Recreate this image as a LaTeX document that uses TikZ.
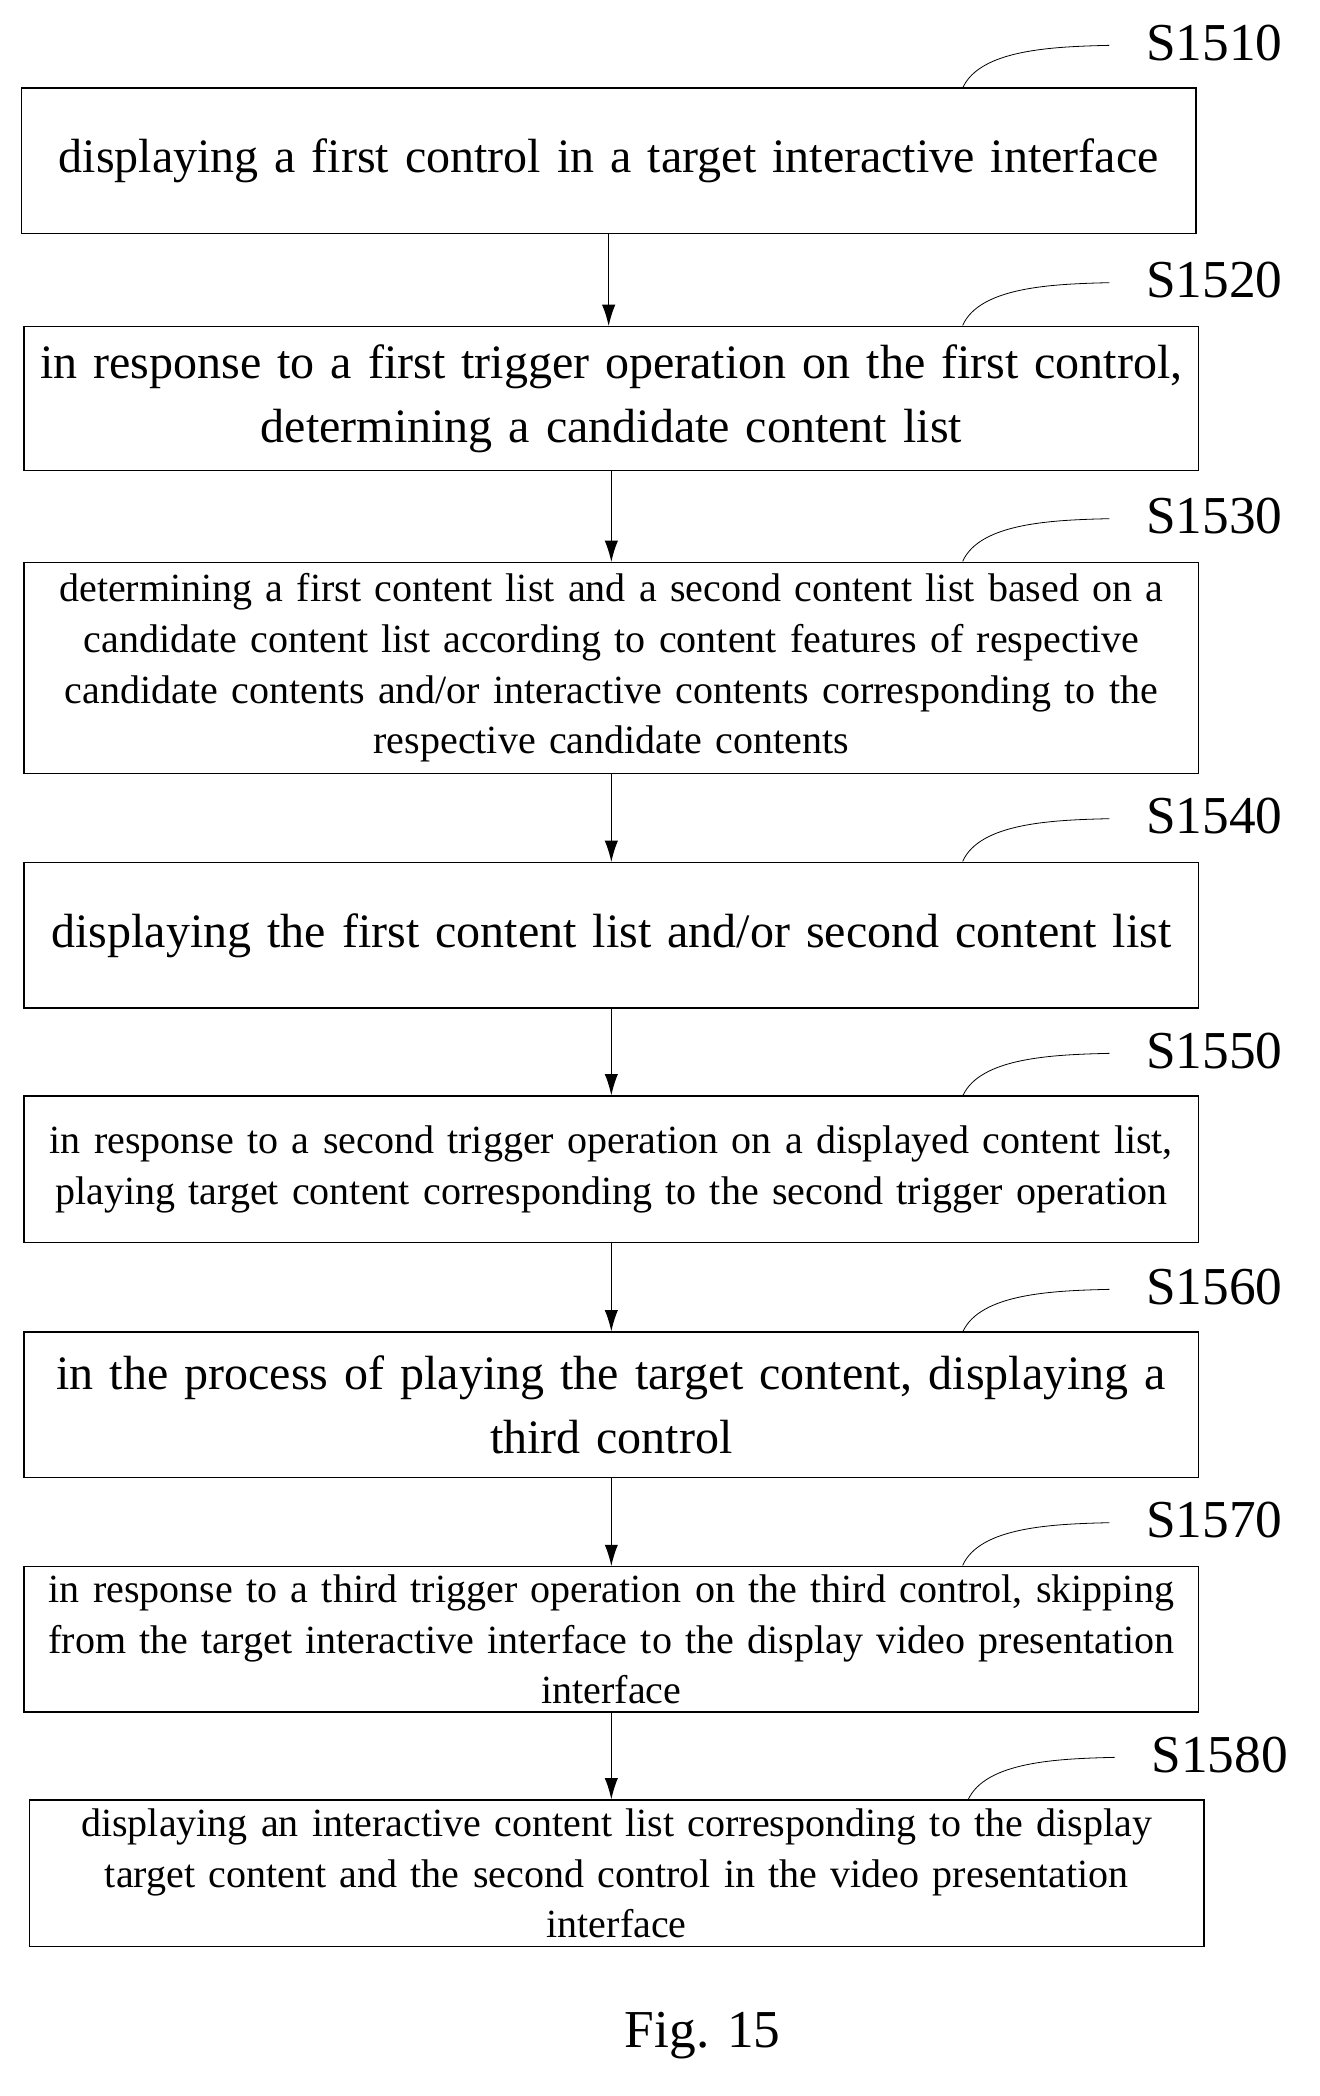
\documentclass[tikz,border=0pt]{standalone}
\usepackage{fontspec}
\setmainfont{Liberation Serif}
\usetikzlibrary{arrows.meta}
\begin{document}
\begin{tikzpicture}[x=1pt,y=-1pt,
 box/.style={draw,line width=0.9pt,minimum width=881pt,inner sep=0pt,align=center,text width=875pt},
 big/.style={font=\fontsize{36}{48}\selectfont},
 sm/.style={font=\fontsize{30}{38}\selectfont},
 lab/.style={font=\fontsize{40}{44}\selectfont,anchor=west},
 arr/.style={-{Latex[length=16pt,width=10pt]},line width=0.9pt},
 lead/.style={line width=0.6pt}]
\useasboundingbox (0,0) rectangle (990,1572);
\node[box,big,minimum height=109pt] (b1) at (456.5,120.5) {displaying a first control in a target interactive interface};
\node[box,big,minimum height=108pt] (b2) at (458.5,299) {in response to a first trigger operation on the first control,\\determining a candidate content list};
\node[box,sm,minimum height=158pt] (b3) at (458.5,501) {determining a first content list and a second content list based on a\\candidate content list according to content features of respective\\candidate contents and/or interactive contents corresponding to the\\respective candidate contents};
\node[box,big,minimum height=109pt] (b4) at (458.5,701.5) {displaying the first content list and/or second content list};
\node[box,sm,minimum height=110pt] (b5) at (458.5,877) {in response to a second trigger operation on a displayed content list,\\playing target content corresponding to the second trigger operation};
\node[box,big,minimum height=109pt] (b6) at (458.5,1053.5) {in the process of playing the target content, displaying a\\third control};
\node[box,sm,minimum height=109pt] (b7) at (458.5,1229.5) {in response to a third trigger operation on the third control, skipping\\from the target interactive interface to the display video presentation\\interface};
\node[box,sm,minimum height=110pt] (b8) at (462.5,1405) {displaying an interactive content list corresponding to the display\\target content and the second control in the video presentation\\interface};
\foreach \a/\b in {b1/b2,b2/b3,b3/b4,b4/b5,b5/b6,b6/b7,b7/b8}{\draw[arr] (\a.south) -- (\a.south |- \b.north);}
\foreach \n/\t/\y in {b1/S1510/32,b2/S1520/210,b3/S1530/387,b4/S1540/612,b5/S1550/788,b6/S1560/965,b7/S1570/1140}{
 \node[lab] (l\n) at (856,\y) {\t};
 \coordinate (c\n) at (722,\y+34);
 \draw[lead] (c\n) .. controls (735,\y+5) and (790,\y+3) .. (832,\y+2);}
\node[lab] (lb8) at (860,1316) {S1580};
\draw[lead] (726,1350) .. controls (739,1321) and (794,1319) .. (836,1318);
\node[font=\fontsize{40}{44}\selectfont] (fig) at (527,1527) {Fig. 15};
\end{tikzpicture}
\end{document}
